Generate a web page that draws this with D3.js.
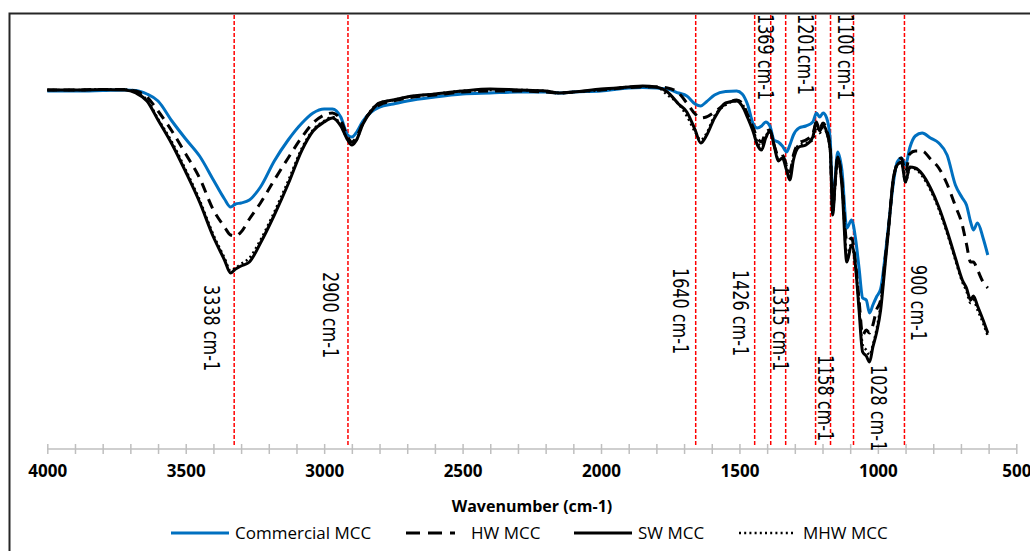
<!DOCTYPE html>
<head>
<meta charset="utf-8">
<title>FTIR spectra - MCC</title>
<style>
body { margin: 0; background: #fff; }
svg { display: block; }
.tick-label text { font-family: "Open Sans", sans-serif; font-weight: bold; font-size: 17px; fill: #000; }
.axis-title { font-family: "Open Sans", sans-serif; font-weight: bold; font-size: 16px; }
.legend text { font-family: "Open Sans", sans-serif; font-size: 17px; fill: #000; }
.peak-label { font-family: "DejaVu Sans", sans-serif; font-size: 16px; fill: #000; }
.marker { stroke: #ff0000; stroke-width: 1.5px; stroke-dasharray: 4,2; }
</style>
</head>
<body>
<div id="chart"></div>
<script src="https://cdnjs.cloudflare.com/ajax/libs/d3/7.8.5/d3.min.js"></script>
<script>
// wavenumber grid (cm-1), shared by all four spectra
const waveNumbers = [
  4000,3900,3800,3720,3680,3640,3600,3550,3500,3450,
  3400,3360,3338,3320,3300,3270,3230,3180,3130,3080,
  3040,3000,2970,2940,2915,2900,2885,2860,2830,2800,
  2750,2700,2600,2500,2400,2300,2200,2150,2100,2000,
  1900,1850,1800,1760,1720,1690,1660,1640,1620,1590,
  1550,1510,1490,1470,1450,1435,1420,1405,1390,1375,
  1360,1345,1330,1318,1305,1285,1260,1235,1222,1210,
  1198,1185,1172,1163,1155,1145,1130,1112,1095,1080,
  1068,1055,1042,1030,1018,1005,990,975,960,945,
  930,915,900,885,865,840,810,780,750,720,
  695,680,665,655,640,620,603
];

// transmittance (%)
const commercialMCC = [
  81.8,81.8,81.9,82,81.9,81.2,79.8,75.8,72.2,68.8,
  64,60.2,58.6,59.2,59.4,60,62.6,67.8,72,75.4,
  77.4,78.2,78.2,76.6,73,72.6,73.4,75.8,77.6,78.6,
  79.2,79.8,80.6,81.2,81.4,81.6,81.6,81.4,81.6,81.8,
  82.4,82.5,82.4,82.2,81.4,80.8,79.2,78.8,79.6,81,
  81.7,81.8,81.2,79,75.2,74.4,74.8,75.6,74.8,72,
  71.6,70.8,69.6,71,73,74.4,74.8,75.6,77.4,76.6,
  77.4,76.4,72,59,64,69.6,66,54.4,56,52,
  46.4,40.4,40,37.4,39,40.6,42.2,48.2,55.6,63,
  67.6,68.4,67,70.4,72.8,73.4,72.4,71.4,69,63,
  60.4,59,55.6,54,55.4,52.4,49
];
const hwMCC = [
  82,82,82.1,82.1,81.8,80.6,77.8,73.8,69.2,64.4,
  58,54.6,53,52.8,53.6,56.2,59.4,64,68.4,72.6,
  75.4,77,77.4,76,72.6,71.6,72.4,75.4,77.8,79,
  79.8,80.4,81,81.6,81.8,81.8,81.6,81.4,81.6,82,
  82.5,82.6,82.6,82.4,81.4,79.4,77.2,76.4,76.6,77.6,
  79.2,80,79.4,77,74.4,72.4,71.6,73.6,74,71,
  69,69,67,65.6,69,71.4,72,73.2,75.6,74.4,
  75.4,74,70.4,58,63,68.6,64,51.6,52.4,47,
  40,33,34,33.4,35,38,40,47.6,55.4,63.6,
  67.4,68.4,65.6,69.2,69.8,69.8,68.2,66.4,63.2,58.8,
  55,51.2,47.6,47.6,46,43.6,42.4
];
const swMCC = [
  82,82,82.1,82,81.4,79.8,76,71.2,65.6,59.6,
  52.6,48,45.4,46.2,46.8,47.6,51.4,57,63.2,70,
  73.8,75.6,76.4,74.8,72,71,71.8,75.2,77.8,79.4,
  80,80.6,81.2,81.8,82.2,82,81.8,81.4,81.6,82.2,
  82.6,82.8,82.6,81.6,79.2,77.6,74,71.4,72.8,76.4,
  79.4,79.8,78.8,76.4,73.6,71,70,72.4,73.8,71,
  67.8,68.4,66,64,68,70.6,71,72.6,75.6,73.8,
  75,73.6,70,57,63,68.6,63,47.6,51,46.4,
  38,29.6,28.8,27.6,30.6,33.4,38,46.4,55,64,
  67,67.6,63.6,66.6,66.4,65.2,62.4,58.6,53.8,48.4,
  44,42.4,40,40.8,38.8,36,33.4
];
const mhwMCC = [
  82,82,82.1,82.1,81.6,80,76.2,71.6,66,60,
  53,48.4,45.8,46.4,47.2,48.4,52,57.6,63.8,70.4,
  74,75.8,76.6,75,72,71,71.8,75.2,78,79.4,
  80,80.6,81.2,81.8,82,82,81.8,81.4,81.6,82,
  82.6,82.7,82.6,81,79.2,76.8,73.6,72,73.2,76.8,
  79,79.8,79.2,76.8,74,71.6,70.8,72.8,73.6,71,
  68.4,68.8,66.8,64.8,68.6,71,71.4,72,74.4,73.4,
  74.4,73.4,69.6,57.6,62.6,68,63.4,49,51.2,46.4,
  39,31,30,29,31,34,39,47,55.2,63.8,
  67,67.4,63.6,66.4,66.2,64.8,62,58.2,53.4,48,
  43.6,41.8,39.4,40,38,35.4,32.8
];

const seriesNames = ["Commercial MCC", "HW MCC", "SW MCC", "MHW MCC"];
const xTicks = [4000, 3500, 3000, 2500, 2000, 1500, 1000, 500];

// red marker lines (where they sit in the picture) and their labels
const markerLines = [3325, 2914, 1658, 1445, 1387, 1333, 1225, 1171, 1088, 904];
const peakLabels = [
  { text: "3338 cm-1", at: 3433, top: 285 },
  { text: "2900 cm-1", at: 3004, top: 272 },
  { text: "1640 cm-1", at: 1741, top: 268 },
  { text: "1426 cm-1", at: 1524, top: 270 },
  { text: "1369 cm-1", at: 1434, top: 14 },
  { text: "1315 cm-1", at: 1380, top: 285 },
  { text: "1201cm-1",  at: 1290, top: 14 },
  { text: "1158 cm-1", at: 1218, top: 355 },
  { text: "1100 cm-1", at: 1145, top: 14 },
  { text: "1028 cm-1", at: 1026, top: 365 },
  { text: "900 cm-1",  at: 882,  top: 265 }
];

const W = 1030, H = 551;
const axisY = 449;

const svg = d3.select("#chart").append("svg")
  .attr("width", W)
  .attr("height", H);

// outer frame (runs past the right and bottom edges)
svg.append("rect")
  .attr("x", 9.5).attr("y", 13.5)
  .attr("width", 1100).attr("height", 600)
  .attr("fill", "none")
  .attr("stroke", "#262626")
  .attr("stroke-width", 2);

const x = d3.scaleLinear().domain([4000, 500]).range([47.3, 1016.3]);
const y = d3.scaleLinear().domain([0, 100]).range([500, 0]);

// marker lines
svg.append("g").selectAll("line")
  .data(markerLines)
  .enter().append("line")
  .attr("class", "marker")
  .attr("x1", d => x(d)).attr("x2", d => x(d))
  .attr("y1", 15).attr("y2", axisY - 2);

// minor ticks every 100
const minor = svg.append("g")
  .attr("transform", `translate(0,${axisY - 5})`)
  .call(d3.axisBottom(x).tickValues(d3.range(500, 4001, 100)).tickSize(10).tickFormat(""));
minor.select(".domain").remove();
minor.selectAll("line").attr("stroke", "#bfbfbf").attr("stroke-width", 1.5);

svg.append("line")
  .attr("x1", x(4000)).attr("x2", x(500))
  .attr("y1", axisY).attr("y2", axisY)
  .attr("stroke", "#bfbfbf").attr("stroke-width", 1.5);

const labels = svg.append("g")
  .attr("class", "tick-label")
  .attr("transform", `translate(0,${axisY})`)
  .call(d3.axisBottom(x).tickValues(xTicks).tickSize(0).tickPadding(16).tickFormat(d3.format("d")));
labels.select(".domain").remove();
labels.selectAll("text").attr("font-family", null).attr("font-size", null);

svg.append("text")
  .attr("class", "axis-title")
  .attr("x", 532).attr("y", 512)
  .attr("text-anchor", "middle")
  .text("Wavenumber (cm-1)");

// spectra
const allSeries = [commercialMCC, hwMCC, swMCC, mhwMCC];
const styles = [
  { color: "#0070c0", width: 3, dash: null },
  { color: "#000", width: 3, dash: "10,7" },
  { color: "#000", width: 3, dash: null },
  { color: "#000", width: 2.6, dash: "2,3.2" }
];

const line = d3.line()
  .x(d => x(d[0]))
  .y(d => y(d[1]))
  .curve(d3.curveMonotoneX);

allSeries.forEach((vals, i) => {
  const pts = waveNumbers.map((w, j) => [w, vals[j]]);
  svg.append("path")
    .datum(pts)
    .attr("fill", "none")
    .attr("stroke", styles[i].color)
    .attr("stroke-width", styles[i].width)
    .attr("stroke-dasharray", styles[i].dash)
    .attr("stroke-linejoin", "round")
    .attr("d", line);
});

// rotated peak labels
svg.append("g").selectAll("text")
  .data(peakLabels)
  .enter().append("text")
  .attr("class", "peak-label")
  .attr("transform", d => `translate(${x(d.at)},${d.top}) rotate(90) scale(1,1.3)`)
  .attr("dy", "0")
  .text(d => d.text);

// legend
const legendItems = [
  { x1: 171, x2: 229, tx: 235 },
  { x1: 406, x2: 455, tx: 471 },
  { x1: 574, x2: 632, tx: 638 },
  { x1: 739, x2: 795, tx: 803 }
];
const legend = svg.append("g").attr("class", "legend");
legendItems.forEach((it, i) => {
  legend.append("line")
    .attr("x1", it.x1).attr("x2", it.x2)
    .attr("y1", 533).attr("y2", 533)
    .attr("stroke", styles[i].color)
    .attr("stroke-width", styles[i].width)
    .attr("stroke-dasharray", i === 1 ? "14,8" : styles[i].dash);
  legend.append("text")
    .attr("x", it.tx).attr("y", 539)
    .text(seriesNames[i]);
});
</script>
</body>
</html>
